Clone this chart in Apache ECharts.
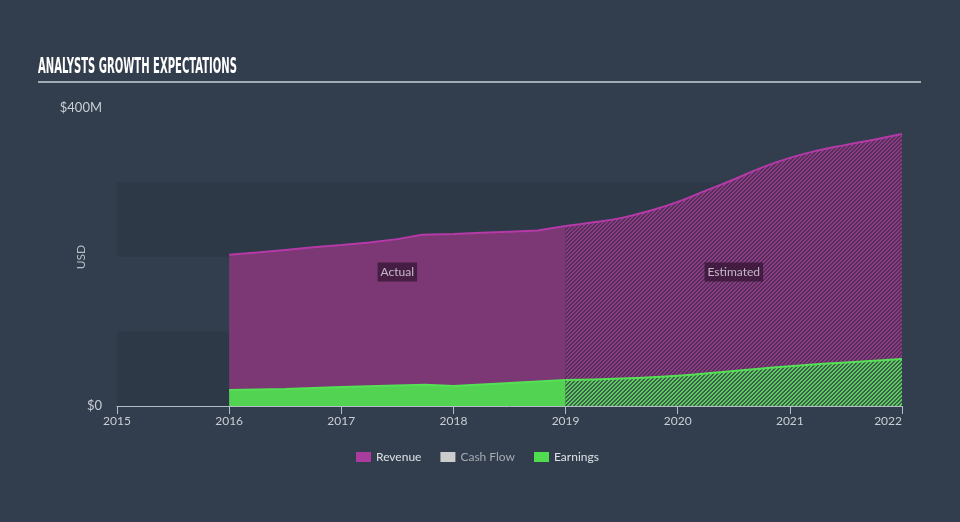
<!DOCTYPE html>
<html>
<head>
<meta charset="utf-8">
<script src="https://cdn.jsdelivr.net/npm/echarts@6/dist/echarts.min.js"></script>
<style>
html,body{margin:0;padding:0;background:#323e4d;}
#chart{width:960px;height:522px;}
</style>
</head>
<body>
<div id="chart"></div>
<script>
// ---- data ----
const xTicks = [2015, 2016, 2017, 2018, 2019, 2020, 2021, 2022];
const revenueActualX = [2016.0, 2016.25, 2016.5, 2016.75, 2017.0, 2017.25, 2017.5, 2017.72, 2018.0, 2018.25, 2018.5, 2018.75, 2019.0];
const revenueActualY = [203, 206, 209.5, 213, 216, 219.5, 224, 230, 231, 232.5, 234, 235.5, 241.5];
const revenueEstX = [2019.0, 2019.25, 2019.5, 2019.75, 2020.0, 2020.25, 2020.5, 2020.75, 2021.0, 2021.25, 2021.5, 2021.75, 2022.0];
const revenueEstY = [241.5, 246.5, 252.5, 262, 274, 289, 304, 320, 333, 343, 350.5, 357.5, 365];
const earningsActualX = [2016.0, 2016.5, 2017.0, 2017.4, 2017.75, 2018.0, 2018.5, 2019.0];
const earningsActualY = [21.5, 22.8, 25.5, 27.3, 28.6, 26.8, 31, 35];
const earningsEstX = [2019.0, 2019.5, 2020.0, 2020.5, 2021.0, 2021.5, 2022.0];
const earningsEstY = [35, 37, 40.5, 47, 53.5, 58.5, 63];
const labelTexts = ['Actual', 'Estimated'];
const labelX = [2017.5, 2020.5];
const labelY = [180, 180];
const yLabelShown = {0: '$0', 400: '$400M'};

const zip = (xs, ys) => xs.map((x, i) => [x, ys[i]]);

function hatch(fg, bg) {
  const c = document.createElement('canvas');
  c.width = 4; c.height = 4;
  const ctx = c.getContext('2d');
  for (let i = 0; i < 4; i++) for (let j = 0; j < 4; j++) {
    ctx.fillStyle = ((i + j) % 4 < 2) ? fg : bg;
    ctx.fillRect(i, j, 1, 1);
  }
  return c;
}

const titleText = 'ANALYSTS GROWTH EXPECTATIONS';
const titleFont = 'bold 22px "DejaVu Sans Condensed", "DejaVu Sans"';
const mc = document.createElement('canvas').getContext('2d');
mc.font = titleFont;
const titleScaleX = 199 / mc.measureText(titleText).width;

const chart = echarts.init(document.getElementById('chart'), null, {renderer: 'canvas'});
const revColor = '#b53aa7';
const earnColor = '#55e055';

chart.setOption({
  backgroundColor: '#323e4d',
  animation: false,
  textStyle: {fontFamily: 'Lato, "Noto Sans", sans-serif'},
  graphic: [
    {
      type: 'text', x: 38, y: 67, scaleX: titleScaleX, scaleY: 1, originX: 0, originY: 0,
      style: {text: titleText, font: titleFont, fill: '#ffffff', verticalAlign: 'middle', align: 'left'}
    },
    {
      type: 'line', shape: {x1: 38, y1: 82, x2: 921, y2: 82},
      style: {stroke: '#a3abb4', lineWidth: 2}
    }
  ],
  legend: {
    left: 351, top: 446, icon: 'rect', itemWidth: 15, itemHeight: 10, itemGap: 19,
    textStyle: {fontSize: 12, color: '#dde1e5'},
    data: [
      {name: 'Revenue', itemStyle: {color: '#a93c9c'}},
      {name: 'Cash Flow', itemStyle: {color: '#cccccc'}, textStyle: {color: '#a5abb2'}},
      {name: 'Earnings', itemStyle: {color: '#4fdc4f'}}
    ],
    selectedMode: false
  },
  grid: {left: 117, right: 58, top: 108, bottom: 116},
  xAxis: {
    type: 'value', min: xTicks[0], max: xTicks[xTicks.length - 1], interval: 1,
    axisLine: {lineStyle: {color: '#b4bcc4', width: 1}},
    axisTick: {show: true, length: 8, lineStyle: {color: '#b4bcc4'}},
    axisLabel: {color: '#c9ced4', fontSize: 12, margin: 9, alignMaxLabel: 'right', formatter: v => String(v)},
    splitLine: {show: false}
  },
  yAxis: {
    type: 'value', min: 0, max: 400, interval: 100,
    name: 'USD', nameLocation: 'middle', nameGap: 30, nameRotate: 90, nameMoveOverlap: false,
    nameTextStyle: {color: '#b9bfc6', fontSize: 12},
    axisLine: {show: false}, axisTick: {show: false},
    axisLabel: {color: '#c9ced4', fontSize: 13, margin: 15, formatter: v => yLabelShown[v] || ''},
    splitLine: {show: false},
    splitArea: {show: true, areaStyle: {color: ['#2d3947', 'rgba(0,0,0,0)']}}
  },
  series: [
    {
      name: 'Revenue', type: 'line', data: zip(revenueActualX, revenueActualY),
      symbol: 'none', color: revColor, lineStyle: {color: revColor, width: 2},
      areaStyle: {color: '#7b3874', opacity: 1}, z: 2
    },
    {
      name: 'Revenue', type: 'line', data: zip(revenueEstX, revenueEstY), smooth: true,
      symbol: 'none', color: revColor, lineStyle: {color: revColor, width: 2},
      areaStyle: {color: {image: hatch('#8c3b85', '#552f59'), repeat: 'repeat'}, opacity: 1}, z: 2
    },
    {name: 'Cash Flow', type: 'line', data: [], color: '#cccccc', symbol: 'none'},
    {
      name: 'Earnings', type: 'line', data: zip(earningsActualX, earningsActualY),
      symbol: 'none', color: earnColor, lineStyle: {color: earnColor, width: 2},
      areaStyle: {color: '#52d452', opacity: 1}, z: 3
    },
    {
      name: 'Earnings', type: 'line', data: zip(earningsEstX, earningsEstY), smooth: true,
      symbol: 'none', color: earnColor, lineStyle: {color: earnColor, width: 2},
      areaStyle: {color: {image: hatch('#5ccc5c', '#3d5f4d'), repeat: 'repeat'}, opacity: 1}, z: 3
    },
    {
      name: 'labels', type: 'scatter', silent: true, symbolSize: 1, z: 10,
      itemStyle: {color: 'rgba(0,0,0,0)'},
      data: labelTexts.map((t, i) => [labelX[i], labelY[i], t]),
      label: {
        show: true, position: 'inside', formatter: p => p.data[2],
        color: '#e2dde2', fontSize: 12, backgroundColor: 'rgba(45,18,45,0.85)',
        padding: [4, 3, 3, 3]
      }
    }
  ]
});
</script>
</body>
</html>
